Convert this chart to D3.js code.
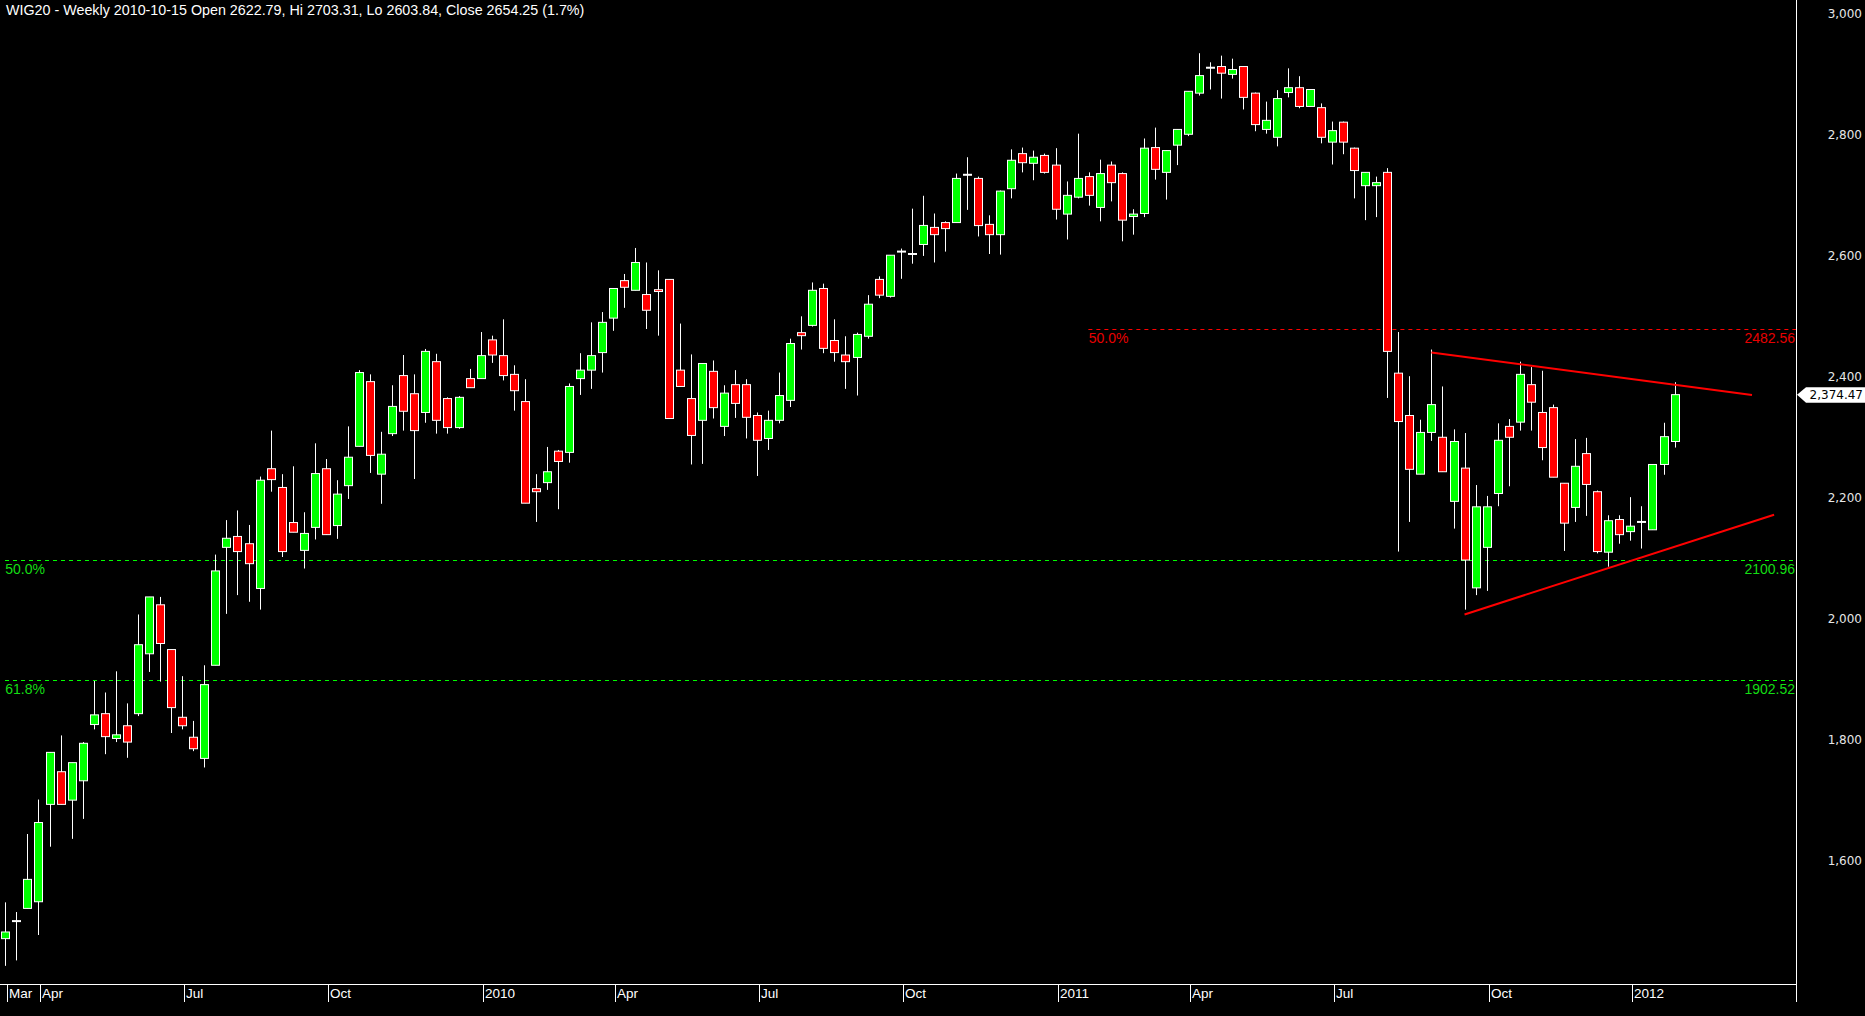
<!DOCTYPE html>
<html><head><meta charset="utf-8">
<script src="https://cdn.jsdelivr.net/npm/d3@7"></script>
<style>html,body{margin:0;padding:0;background:#000;overflow:hidden}</style>
</head><body><svg id="c" width="1865" height="1016"></svg>
<script>
// Weekly WIG20 candles, Mar 2009 – Feb 2012
const openP = [1475,1504,1525,1536,1697,1751,1704,1736,1829,1847,
1806,1827,1847,1946,2027,1953,1841,1808,1773,1927,
2122,2140,2128,2054,2252,2221,2163,2117,2155,2252,
2158,2224,2289,2396,2243,2310,2406,2376,2345,2429,
2368,2320,2401,2401,2465,2439,2408,2363,2219,2229,
2281,2279,2401,2415,2444,2501,2563,2547,2540,2548,
2565,2415,2368,2332,2413,2322,2391,2391,2340,2302,
2332,2365,2477,2489,2550,2464,2440,2436,2471,2565,
2537,2611,2607,2622.79,2651,2659,2659,2738,2732,2656,
2639,2715,2773,2757,2770,2754,2673,2701,2735,2684,
2754,2740,2669,2674,2783,2742,2787,2805,2873,2915,
2917,2904,2917,2873,2813,2800,2874,2882,2851,2849,
2792,2825,2782,2720,2720,2742,2410,2340,2243,2312,
2304,2198,2253,2055,2122,2211,2322,2329,2391,2345,
2353,2228,2188,2277,2214,2114,2168,2148,2164,2151,
2259,2297];
const highP = [1535,1519,1648,1705,1783,1811,1766,1800,1901,1882,
1917,1864,2011,2040,2040,1953,1909,1835,1927,2110,
2167,2183,2159,2239,2315,2243,2256,2180,2294,2268,
2233,2322,2415,2408,2313,2390,2440,2408,2450,2442,
2370,2372,2417,2478,2472,2499,2423,2400,2243,2288,
2283,2393,2443,2494,2511,2550,2574,2617,2593,2580,
2565,2492,2441,2426,2431,2390,2415,2400,2345,2348,
2411,2467,2504,2560,2558,2499,2471,2477,2539,2570,
2605,2616,2682,2703.31,2674,2661,2740,2767,2735,2671,
2712,2780,2783,2778,2773,2782,2727,2806,2742,2763,
2760,2742,2681,2798,2816,2778,2813,2876,2939,2924,
2935,2930,2917,2874,2859,2878,2914,2901,2879,2856,
2826,2826,2783,2742,2735,2749,2478,2405,2333,2449,
2388,2317,2311,2225,2207,2327,2334,2429,2420,2414,
2358,2228,2301,2303,2216,2175,2175,2205,2190,2259,
2328,2395];
const lowP = [1430,1439,1525,1481,1627,1697,1640,1673,1821,1780,
1800,1774,1843,1916,1900,1815,1821,1785,1758,1927,
2012,2043,2032,2019,2214,2106,2147,2087,2135,2143,
2136,2202,2289,2245,2194,2306,2315,2235,2328,2310,
2310,2318,2386,2401,2427,2398,2348,2195,2164,2217,
2185,2262,2374,2384,2411,2480,2518,2547,2483,2472,
2335,2388,2259,2260,2335,2306,2336,2302,2240,2283,
2327,2354,2449,2487,2443,2429,2384,2373,2467,2534,
2535,2566,2591,2603.84,2593,2611,2659,2680,2636,2607,
2606,2699,2742,2729,2740,2664,2631,2699,2687,2661,
2694,2628,2639,2668,2730,2697,2754,2802,2869,2879,
2864,2897,2846,2810,2806,2785,2866,2848,2851,2790,
2755,2772,2699,2663,2668,2369,2115,2164,2243,2298,
2247,2153,2019,2043,2050,2190,2223,2315,2315,2266,
2238,2116,2164,2174,2112,2090,2128,2133,2120,2151,
2242,2287];
const closeP = [1486,1504,1573,1667,1783,1697,1766,1798,1845,1809,
1812,1800,1961,2040,1963,1857,1827,1789,1895,2083,
2137,2115,2095,2233,2234,2115,2147,2145,2244,2143,
2210,2271,2411,2274,2276,2355,2347,2315,2446,2332,
2320,2370,2386,2439,2440,2406,2381,2195,2214,2247,
2264,2388,2415,2439,2494,2550,2552,2593,2514,2545,
2335,2388,2307,2426,2353,2377,2360,2337,2299,2332,
2373,2459,2472,2547,2451,2444,2429,2474,2524,2539,
2605,2611,2607,2654.25,2639,2649,2732,2738,2654,2639,
2711,2762,2758,2767,2742,2681,2704,2732,2704,2740,
2725,2663,2673,2782,2747,2778,2813,2876,2902,2915,
2906,2912,2866,2821,2828,2864,2882,2851,2879,2800,
2811,2792,2745,2742,2725,2446,2330,2251,2312,2358,
2247,2297,2101,2189,2189,2299,2304,2408,2362,2287,
2238,2162,2256,2226,2115,2166,2143,2157,2164,2259,
2305,2374.47];

const tickLabels = ['Mar','Apr','Jul','Oct','2010','Apr','Jul','Oct','2011','Apr','Jul','Oct','2012'];
const tickWeeks  = [0,3,16,29,43,55,68,81,95,107,120,134,147];
const yTicks = [1600,1800,2000,2200,2400,2600,2800,3000];

const fibValues = [2482.56, 2100.96, 1902.52];
const fibLabels = ['50.0%','50.0%','61.8%'];
const fibStartWeek = [98, 0, 0];
const fibColors = ['#ff0000','#00ff00','#00ff00'];
const fibTextColors = ['#e80000','#14dc14','#14dc14'];

const trendUpper = [[129, 2444], [158, 2374]];
const trendLower = [[132, 2011], [160, 2176]];

const titleText = 'WIG20 - Weekly 2010-10-15 Open 2622.79, Hi 2703.31, Lo 2603.84, Close 2654.25 (1.7%)';
const lastValue = 2374.47;

const W = 1865, H = 1016;
const plotRight = 1796, plotBottom = 984;
const svg = d3.select('#c');
svg.append('rect').attr('width', W).attr('height', H).attr('fill', '#000');

const x = d3.scaleLinear().domain([0, 151]).range([5.3, 1674.6]);
const y = d3.scaleLinear().domain([1400, 3027]).range([plotBottom, 0]);
const px = v => Math.round(x(v)) + 0.5;

// Fibonacci levels
const fib = svg.append('g');
fibValues.forEach((v, k) => {
  const yy = Math.round(y(v)) + 0.5;
  fib.append('line').attr('x1', x(fibStartWeek[k]) - 0.3).attr('x2', plotRight)
    .attr('y1', yy).attr('y2', yy).attr('stroke', fibColors[k]).attr('stroke-width', 1)
    .attr('stroke-dasharray', '4,4');
  fib.append('text').attr('x', x(fibStartWeek[k])).attr('y', yy + 13)
    .attr('fill', fibTextColors[k]).attr('font-family', 'Liberation Sans, Arial, sans-serif')
    .attr('font-size', 14).text(fibLabels[k]);
  fib.append('text').attr('x', plotRight - 1).attr('y', yy + 13).attr('text-anchor', 'end')
    .attr('fill', fibTextColors[k]).attr('font-family', 'Liberation Sans, Arial, sans-serif')
    .attr('font-size', 14).text(v.toFixed(2));
});

// Candles
const data = openP.map((o, i) => ({i, o, h: highP[i], l: lowP[i], c: closeP[i]}));
const g = svg.append('g');
data.forEach(d => {
  const cx = px(d.i);
  g.append('line').attr('x1', cx).attr('x2', cx).attr('y1', y(d.h)).attr('y2', y(d.l))
    .attr('stroke', '#fff').attr('stroke-width', 1);
  if (d.o === d.c) {
    g.append('line').attr('x1', cx - 4.5).attr('x2', cx + 4.5).attr('y1', y(d.o)).attr('y2', y(d.o))
      .attr('stroke', '#fff').attr('stroke-width', 2);
  } else {
    const top = y(Math.max(d.o, d.c)), bot = y(Math.min(d.o, d.c));
    const hgt = Math.max(bot - top, 1.5);
    g.append('rect').attr('x', cx - 4).attr('width', 8).attr('y', top).attr('height', hgt)
      .attr('fill', d.c > d.o ? '#00ff00' : '#ff0000').attr('stroke', '#fff').attr('stroke-width', 1);
  }
});

// Trend lines
const line = d3.line().x(p => x(p[0])).y(p => y(p[1]));
[trendUpper, trendLower].forEach(t => {
  svg.append('path').attr('d', line(t)).attr('fill', 'none').attr('stroke', '#ff0000').attr('stroke-width', 2);
});

// Axes frame
svg.append('line').attr('x1', 0).attr('x2', plotRight + 0.5).attr('y1', plotBottom + 0.5).attr('y2', plotBottom + 0.5)
  .attr('stroke', '#fff').attr('stroke-width', 1);
svg.append('line').attr('x1', plotRight + 0.5).attr('x2', plotRight + 0.5).attr('y1', 0).attr('y2', 1002)
  .attr('stroke', '#fff').attr('stroke-width', 1);

// X axis ticks and labels
tickWeeks.forEach((w, k) => {
  const tx = Math.round(x(w) + 2) + 0.5;
  svg.append('line').attr('x1', tx).attr('x2', tx).attr('y1', plotBottom).attr('y2', 1002)
    .attr('stroke', '#fff').attr('stroke-width', 1);
  svg.append('text').attr('x', tx + 1.5).attr('y', 998).attr('fill', '#fff')
    .attr('font-family', 'Liberation Sans, Arial, sans-serif').attr('font-size', 13.5).text(tickLabels[k]);
});

// Y axis labels (right)
const fmt = d3.format(',');
yTicks.forEach(v => {
  svg.append('text').attr('x', 1862).attr('y', y(v) - 2).attr('text-anchor', 'end')
    .attr('dominant-baseline', 'middle').attr('fill', '#e6e6e6')
    .attr('font-family', 'DejaVu Sans, Verdana, sans-serif').attr('font-size', 12).text(fmt(v));
});

// Last value marker
const ly = y(lastValue);
svg.append('path')
  .attr('d', `M${plotRight + 1},${ly} L${plotRight + 10},${ly - 7.5} L${W},${ly - 7.5} L${W},${ly + 8} L${plotRight + 10},${ly + 8} Z`)
  .attr('fill', '#fff');
svg.append('text').attr('x', 1863).attr('y', ly + 0.5).attr('text-anchor', 'end')
  .attr('dominant-baseline', 'middle').attr('fill', '#000')
  .attr('font-family', 'DejaVu Sans, Verdana, sans-serif').attr('font-size', 12).text(d3.format(',.2f')(lastValue));

// Title
svg.append('text').attr('x', 6).attr('y', 15).attr('fill', '#fff')
  .attr('font-family', 'Liberation Sans, Arial, sans-serif').attr('font-size', 14.3).text(titleText);
</script>
</body></html>
